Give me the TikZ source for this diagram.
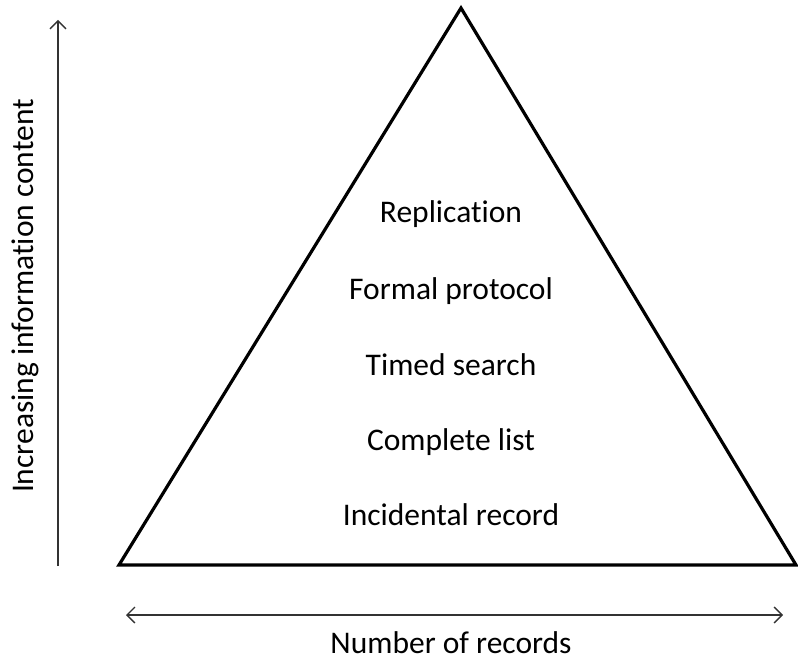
\documentclass[tikz,border=0pt]{standalone}
\usepackage{fontspec}
\setmainfont[Ligatures={NoCommon}]{Carlito}
\usetikzlibrary{arrows.meta}
\begin{document}
\begin{tikzpicture}[x=1pt,y=-1pt,
  lbl/.style={font=\fontsize{31.5}{36}\selectfont, inner sep=0pt, anchor=base},
  axis/.style={line width=1.3pt, draw=black!80, {Straight Barb[length=8pt,width=16pt]}-{Straight Barb[length=8pt,width=16pt]}},
  axisone/.style={line width=1.3pt, draw=black!80, -{Straight Barb[length=8pt,width=16pt]}}]
\useasboundingbox (0,0) rectangle (798,663);
\coordinate (apex) at (461,8);
\coordinate (bl) at (119,565);
\coordinate (br) at (796,565);
\draw[line width=3.2pt, line join=miter] (apex) -- (br) -- (bl) -- cycle;
\node[lbl] (rep) at (451,223) {Replication};
\node[lbl] (form) at (451,299) {Formal protocol};
\node[lbl] (timed) at (451,375) {Timed search};
\node[lbl] (comp) at (451,450) {Complete list};
\node[lbl] (inc) at (451,525) {Incidental record};
\coordinate (vb) at (58,566);
\coordinate (vt) at (58,20);
\draw[axisone] (vb) -- (vt);
\node[lbl, rotate=90] (vlab) at (33,296) {Increasing information content};
\coordinate (hl) at (126,615);
\coordinate (hr) at (783,615);
\draw[axis] (hl) -- (hr);
\node[lbl] (hlab) at (451,653) {Number of records};
\end{tikzpicture}
\end{document}
